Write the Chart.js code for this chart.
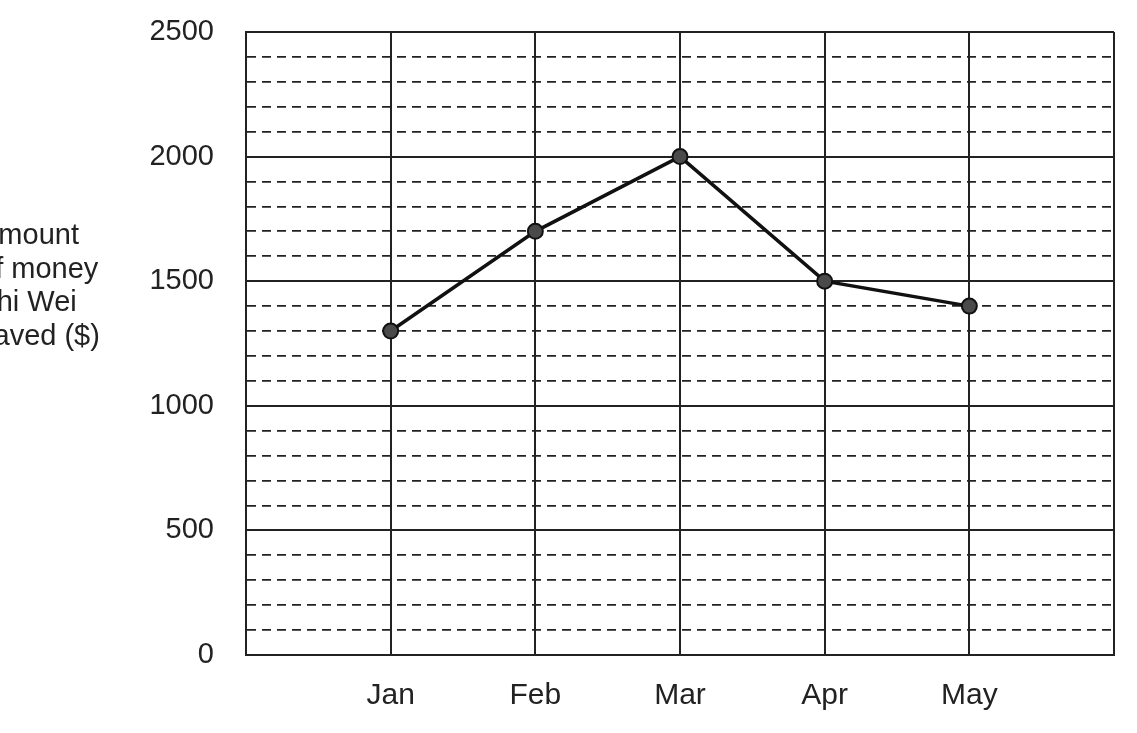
<!DOCTYPE html>
<html>
<head>
<meta charset="utf-8">
<script src="https://cdn.jsdelivr.net/npm/chart.js@4"></script>
<style>
  html, body { margin:0; padding:0; background:#fff; overflow:hidden; }
  #wrap { position:relative; width:1137px; height:733px; }
  #ytitle { position:absolute; left:-21px; top:218px; font-family:'Liberation Sans', Arial, sans-serif;
            font-size:29px; line-height:33.5px; color:#222; white-space:nowrap; }
</style>
</head>
<body>
<div id="wrap">
  <canvas id="c" width="1137" height="733"></canvas>
  <div id="ytitle">Amount<br>of money<br>Zhi Wei<br>saved ($)</div>
</div>
<script>
const months = ['Jan', 'Feb', 'Mar', 'Apr', 'May'];
const saved = [1300, 1700, 2000, 1500, 1400];
const yMin = 0, yMax = 2500, yMinorStep = 100, yMajorStep = 500;

const FONT = "'Liberation Sans', Arial, sans-serif";
const points = months.map((m, i) => ({ x: i + 1, y: saved[i] }));

new Chart(document.getElementById('c'), {
  type: 'line',
  data: {
    datasets: [{
      data: points,
      borderColor: '#111',
      borderWidth: 3.5,
      pointRadius: 7.5,
      pointHoverRadius: 7.5,
      pointBackgroundColor: '#4a4a4a',
      pointBorderColor: '#111',
      pointBorderWidth: 2,
      tension: 0,
      fill: false
    }]
  },
  options: {
    responsive: false,
    animation: false,
    events: [],
    layout: { padding: { left: 0, top: 32, right: 23, bottom: 0 } },
    plugins: { legend: { display: false }, tooltip: { enabled: false } },
    scales: {
      x: {
        type: 'linear',
        min: 0, max: months.length + 1,
        afterFit: s => { s.height = 78; },
        ticks: {
          stepSize: 1,
          autoSkip: false,
          maxRotation: 0,
          padding: 23,
          color: '#222',
          font: { family: FONT, size: 30 },
          callback: v => months[v - 1] || ''
        },
        grid: { color: '#222', lineWidth: 2, drawTicks: false },
        border: { display: true, color: '#222', width: 2 }
      },
      y: {
        min: yMin, max: yMax,
        afterFit: s => { s.width = 246; },
        afterBuildTicks: s => {
          const t = [];
          for (let v = yMin; v <= yMax; v += yMinorStep) t.push({ value: v });
          s.ticks = t;
        },
        ticks: {
          autoSkip: false,
          padding: 2,
          color: '#222',
          font: { family: FONT, size: 29 },
          callback: v => (v % yMajorStep === 0 ? String(v) : '')
        },
        grid: {
          drawTicks: true,
          tickLength: 30,
          tickColor: 'rgba(0,0,0,0)',
          color: '#222',
          lineWidth: ctx => (ctx.tick && ctx.tick.value % yMajorStep === 0 ? 2 : 1.8)
        },
        border: {
          display: true, color: '#222', width: 2,
          dash: ctx => (ctx.tick && ctx.tick.value % yMajorStep !== 0 ? [9, 6] : [])
        }
      }
    }
  }
});
</script>
</body>
</html>
